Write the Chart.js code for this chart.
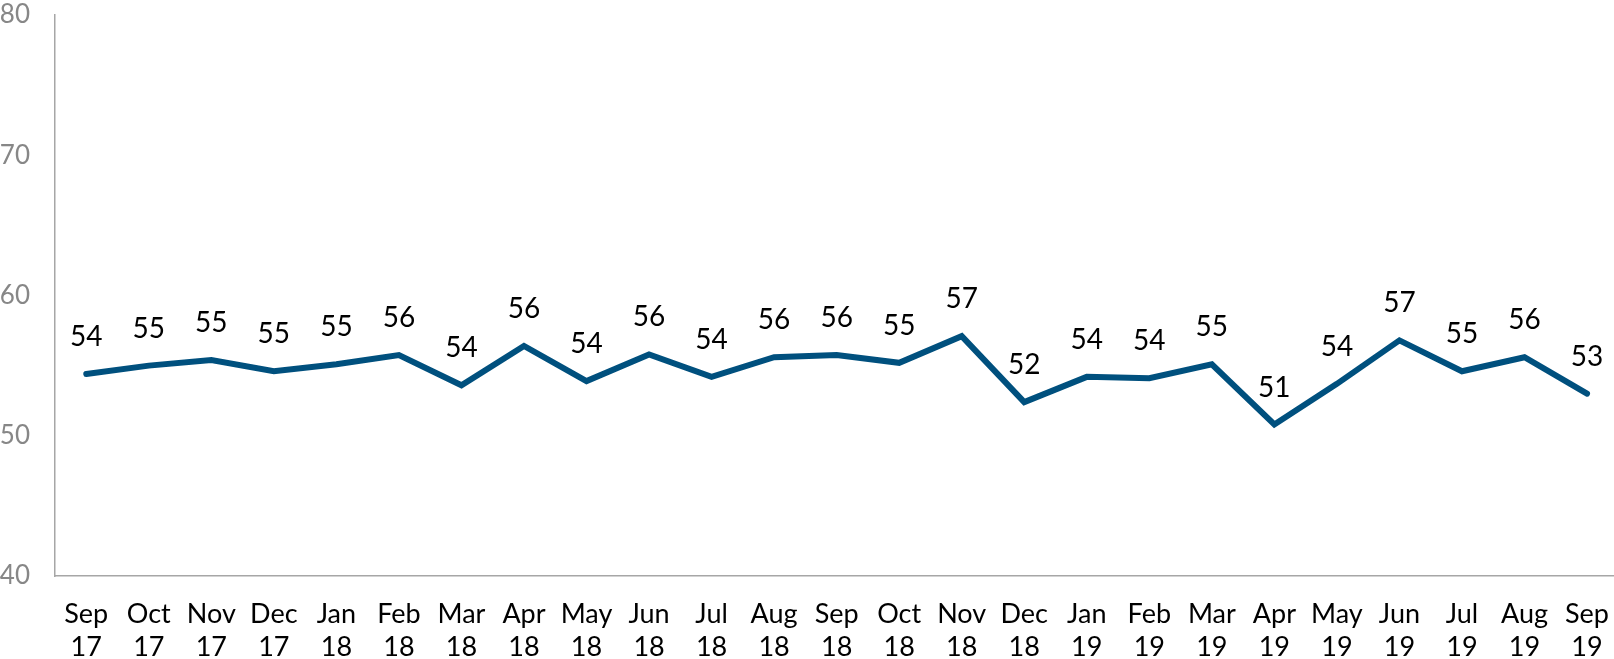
<!DOCTYPE html>
<html>
<head>
<meta charset="utf-8">
<script src="https://cdn.jsdelivr.net/npm/chart.js@4.4.1/dist/chart.umd.min.js"></script>
<style>
  html, body { margin: 0; padding: 0; background: #fff; overflow: hidden; }
  #wrap { width: 1631px; height: 659px; position: relative; }
</style>
</head>
<body>
<div id="wrap"><canvas id="lineChart"></canvas></div>
<script>
// Months shown on the x axis (two lines each)
const months = ['Sep', 'Oct', 'Nov', 'Dec', 'Jan', 'Feb', 'Mar', 'Apr', 'May', 'Jun', 'Jul', 'Aug',
                'Sep', 'Oct', 'Nov', 'Dec', 'Jan', 'Feb', 'Mar', 'Apr', 'May', 'Jun', 'Jul', 'Aug', 'Sep'];
const years = ['17', '17', '17', '17', '18', '18', '18', '18', '18', '18', '18', '18',
               '18', '18', '18', '18', '19', '19', '19', '19', '19', '19', '19', '19', '19'];

// Index values
const indexValues = [54.4, 55.0, 55.4, 54.6, 55.1, 55.75, 53.6, 56.4, 53.9, 55.8, 54.2, 55.6,
                     55.75, 55.2, 57.1, 52.4, 54.2, 54.1, 55.1, 50.8, 53.7, 56.8, 54.6, 55.6, 53.0];

// Y axis ticks
const yTicks = [40, 50, 60, 70, 80];

const labels = months.map((m, i) => [m, years[i]]);
const fontFamily = 'Lato, "Open Sans", sans-serif';

// Draw the rounded value above each point
const valueLabels = {
    id: 'valueLabels',
    afterDatasetsDraw(chart) {
        const ctx = chart.ctx;
        const meta = chart.getDatasetMeta(0);
        ctx.save();
        ctx.font = '28px ' + fontFamily;
        ctx.fillStyle = '#000';
        ctx.textAlign = 'center';
        ctx.textBaseline = 'middle';
        meta.data.forEach((pt, i) => {
            ctx.fillText(String(Math.round(indexValues[i])), pt.x, pt.y - 37);
        });
        ctx.restore();
    }
};

const ctx = document.getElementById('lineChart').getContext('2d');
const lineChart = new Chart(ctx, {
    type: 'line',
    data: {
        labels: labels,
        datasets: [{
            data: indexValues,
            borderColor: '#00507E',
            borderWidth: 6,
            borderCapStyle: 'round',
            borderJoinStyle: 'miter',
            pointRadius: 0,
            tension: 0,
            fill: false
        }]
    },
    options: {
        responsive: true,
        maintainAspectRatio: false,
        animation: false,
        layout: { padding: { top: 15, left: 0, right: 0, bottom: 0 } },
        plugins: {
            legend: { display: false },
            tooltip: { enabled: false }
        },
        scales: {
            x: {
                offset: true,
                grid: { display: false, drawTicks: false },
                border: { color: '#a6a6a6', width: 1.5 },
                ticks: {
                    color: '#000',
                    font: { family: fontFamily, size: 27, lineHeight: 1.22 },
                    padding: 22,
                    maxRotation: 0,
                    autoSkip: false
                },
                afterFit(scale) { scale.height = 83; }
            },
            y: {
                min: 40,
                max: 80,
                afterBuildTicks(scale) {
                    scale.ticks = yTicks.map(v => ({ value: v }));
                },
                grid: { display: false, drawTicks: false },
                border: { color: '#a6a6a6', width: 1.5 },
                ticks: {
                    color: '#878787',
                    font: { family: fontFamily, size: 26 },
                    padding: 25
                },
                afterFit(scale) {
                    scale.width = 55;
                    scale.paddingTop = 0;
                    scale.paddingBottom = 0;
                }
            }
        }
    },
    plugins: [valueLabels]
});
</script>
</body>
</html>
